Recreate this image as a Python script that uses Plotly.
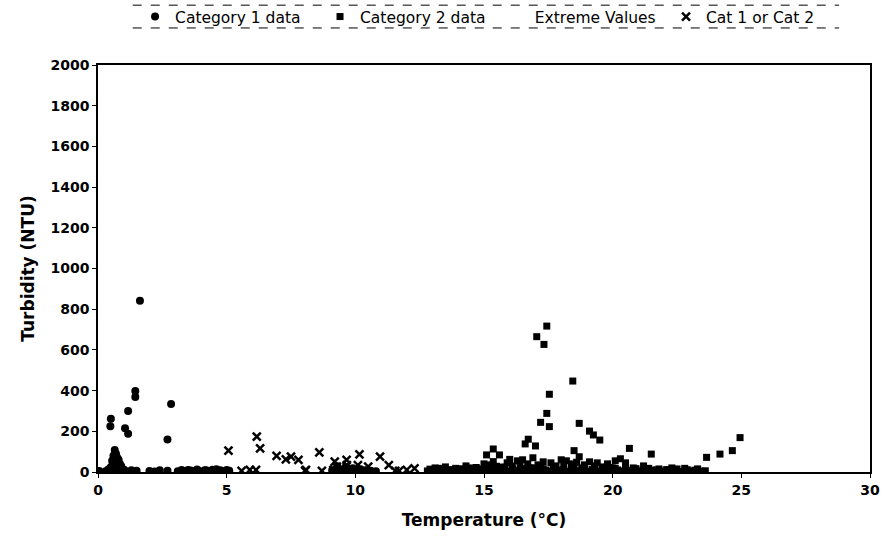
import plotly.graph_objects as go

# ---------------- data ----------------
cat1_temp = [1.63, 1.45, 1.45, 1.17, 2.84, 0.50, 0.48, 1.05, 1.17, 2.70,
             0.65, 0.70, 0.60, 0.75, 0.80, 0.55, 0.70, 0.85, 0.60, 0.90, 0.50, 0.75, 0.65, 1.00, 0.55,
             0.05, 0.30, 0.50, 0.70, 0.90, 1.10, 1.50, 2.00, 2.20, 2.70, 3.10, 3.40, 3.60, 3.75, 3.90,
             4.05, 4.20, 4.35, 4.50, 4.65, 4.80, 4.95, 5.10, 3.50, 3.85, 4.15, 4.45, 4.75, 5.00,
             9.10, 9.25, 9.40, 9.55, 9.70, 9.85, 10.00, 10.20, 10.40, 9.30, 9.60, 9.90, 10.6, 10.8,
             0.40, 0.85, 1.30, 2.40, 3.25, 4.60]
cat1_turb = [842, 398, 368, 300, 334, 262, 225, 215, 188, 160,
             108, 90, 80, 70, 60, 55, 45, 40, 35, 30, 25, 20, 15, 12, 10,
             5, 4, 6, 3, 5, 4, 6, 5, 3, 6, 4, 5, 7, 4, 6,
             3, 8, 5, 4, 7, 5, 3, 6, 10, 12, 9, 11, 8, 10,
             8, 15, 6, 12, 20, 10, 5, 14, 8, 28, 22, 18, 6, 4,
             12, 18, 9, 8, 10, 14]

cat2_temp = [17.44, 17.05, 17.33, 18.45, 17.54, 17.44, 17.20, 17.54, 18.70, 19.10,
             19.25, 19.50, 16.72, 16.60, 17.00, 20.65, 21.50, 15.36, 18.50, 23.65,
             24.17, 24.65, 24.95, 15.10, 15.60, 15.36,
             13.1, 13.5, 13.9, 14.3, 14.7, 15.0, 15.2, 15.5, 15.9, 16.1, 16.3, 16.5, 16.7, 16.9,
             17.1, 17.3, 17.6, 17.8, 18.0, 18.2, 18.4, 18.7, 18.9, 19.1, 19.3, 19.6, 19.8, 20.1,
             20.3, 20.5, 20.8, 21.2, 21.8, 22.3, 22.8, 23.3, 14.0, 14.5,
             15.8, 16.4, 16.8, 17.7, 18.1, 18.8, 19.4, 20.0, 20.9, 21.4, 16.0, 17.2, 18.6, 19.9,
             12.8, 13.0, 13.2, 13.4, 13.6, 13.8, 14.0, 14.2, 14.4, 14.6, 14.8, 15.0, 15.2, 15.4,
             15.6, 15.8, 16.0, 16.2, 16.4, 16.6, 16.8, 17.0, 17.2, 17.4, 17.6, 17.8, 18.0, 18.2,
             18.4, 18.6, 18.8, 19.0, 19.2, 19.4, 19.6, 19.8, 20.0, 20.2, 20.4, 20.6, 20.8, 21.0,
             21.2, 21.4, 21.6, 21.8, 22.0, 22.2, 22.4, 22.6, 22.8, 23.0, 23.2, 23.4, 23.6,
             12.9, 13.3, 13.7, 14.1, 14.5, 14.9, 15.3, 15.7, 16.1, 16.5, 16.9, 17.3, 17.7, 18.1,
             18.5, 18.9, 19.3, 19.7, 20.1, 20.5, 20.9, 21.3, 21.7, 22.1, 22.5, 22.9, 23.3]
cat2_turb = [717, 665, 627, 447, 382, 288, 244, 223, 239, 201,
             182, 157, 161, 138, 128, 116, 88, 113, 105, 72,
             88, 105, 169, 84, 84, 51,
             20, 25, 18, 30, 22, 40, 35, 28, 45, 30, 55, 60, 40, 70,
             35, 50, 45, 30, 60, 55, 40, 75, 35, 50, 30, 25, 40, 55,
             65, 45, 20, 30, 15, 20, 18, 15, 12, 15,
             25, 35, 20, 25, 30, 20, 45, 20, 15, 18, 62, 28, 48, 22,
             5, 8, 3, 10, 6, 4, 12, 7, 5, 9, 3, 11, 6, 8,
             4, 10, 5, 7, 3, 12, 8, 6, 4, 9, 5, 11, 7, 3,
             10, 6, 8, 4, 12, 5, 9, 3, 7, 10, 4, 8, 6, 5,
             11, 3, 9, 7, 4, 10, 6, 3, 8, 5, 9, 4, 6,
             14, 18, 12, 16, 20, 15, 18, 22, 14, 17, 20, 16, 19, 13,
             18, 15, 21, 14, 17, 12, 16, 14, 10, 12, 15, 11, 13]

extreme_temp = [None]
extreme_turb = [None]

cat12_temp = [5.07, 6.17, 6.30, 6.94, 7.30, 7.79, 5.58, 5.90, 6.14, 8.05,
              8.60, 9.20, 9.66, 10.16, 10.96, 8.08, 8.70, 9.15, 10.10, 10.50,
              11.30, 12.30, 11.70, 11.55, 12.00, 9.28, 10.00, 9.67, 10.44, 7.50]
cat12_turb = [105, 174, 116, 79, 62, 59, 6, 10, 10, 6,
              97, 51, 59, 87, 75, 10, 6, 10, 34, 26,
              34, 18, 6, 6, 10, 26, 0, 34, 2, 75]

x_ticks = [0, 5, 10, 15, 20, 25, 30]
y_ticks = [0, 200, 400, 600, 800, 1000, 1200, 1400, 1600, 1800, 2000]

# ---------------- figure ----------------
fig = go.Figure()
fig.add_trace(go.Scatter(x=cat1_temp, y=cat1_turb, mode="markers", name="Category 1 data",
                         marker=dict(symbol="circle", size=8, color="black"), legend="legend"))
fig.add_trace(go.Scatter(x=cat2_temp, y=cat2_turb, mode="markers", name="Category 2 data",
                         marker=dict(symbol="square", size=7, color="black"), legend="legend2"))
fig.add_trace(go.Scatter(x=extreme_temp, y=extreme_turb, mode="markers", name="Extreme Values",
                         marker=dict(symbol="circle", size=6, color="rgba(0,0,0,0)"), legend="legend3"))
fig.add_trace(go.Scatter(x=cat12_temp, y=cat12_turb, mode="markers", name="Cat 1 or Cat 2",
                         marker=dict(symbol="x-thin", size=8, color="black",
                                     line=dict(width=2.5, color="black")), legend="legend4"))

legfont = dict(family="DejaVu Sans", size=15.5, color="black")
def leg(x):
    return dict(x=x, y=1.118, xanchor="left", yanchor="middle", orientation="h",
                font=legfont, bgcolor="rgba(0,0,0,0)")

fig.update_layout(
    width=882, height=538,
    margin=dict(l=98, r=12, t=65, b=66, autoexpand=False),
    paper_bgcolor="white", plot_bgcolor="white",
    showlegend=True,
    font=dict(family="DejaVu Sans", color="black"),
    legend=leg(0.048), legend2=leg(0.2876), legend3=leg(0.514), legend4=leg(0.7358),
    xaxis=dict(range=[0, 30], tickvals=x_ticks, ticktext=[str(v) for v in x_ticks],
               showline=True, linecolor="black", linewidth=1.5, mirror=True,
               ticks="outside", ticklen=4, tickcolor="black", showgrid=False, zeroline=False,
               tickfont=dict(family="DejaVu Sans", size=14, color="black", weight="bold"),
               title=dict(text="Temperature (°C)", standoff=18,
                          font=dict(family="DejaVu Sans", size=17, color="black", weight="bold"))),
    yaxis=dict(range=[0, 2000], tickvals=y_ticks, ticktext=[str(v) for v in y_ticks],
               showline=True, linecolor="black", linewidth=1.5, mirror=True,
               ticks="outside", ticklen=4, tickcolor="black", showgrid=False, zeroline=False,
               tickfont=dict(family="DejaVu Sans", size=14, color="black", weight="bold"),
               title=dict(text="Turbidity (NTU)", standoff=12,
                          font=dict(family="DejaVu Sans", size=17, color="black", weight="bold"))),
    shapes=[
        dict(type="line", xref="paper", yref="paper", x0=0.045, x1=0.96, y0=1.147, y1=1.147,
             line=dict(color="black", width=1, dash="dash")),
        dict(type="line", xref="paper", yref="paper", x0=0.045, x1=0.96, y0=1.091, y1=1.091,
             line=dict(color="black", width=1, dash="dash")),
    ],
)

fig.write_html("out.html")
